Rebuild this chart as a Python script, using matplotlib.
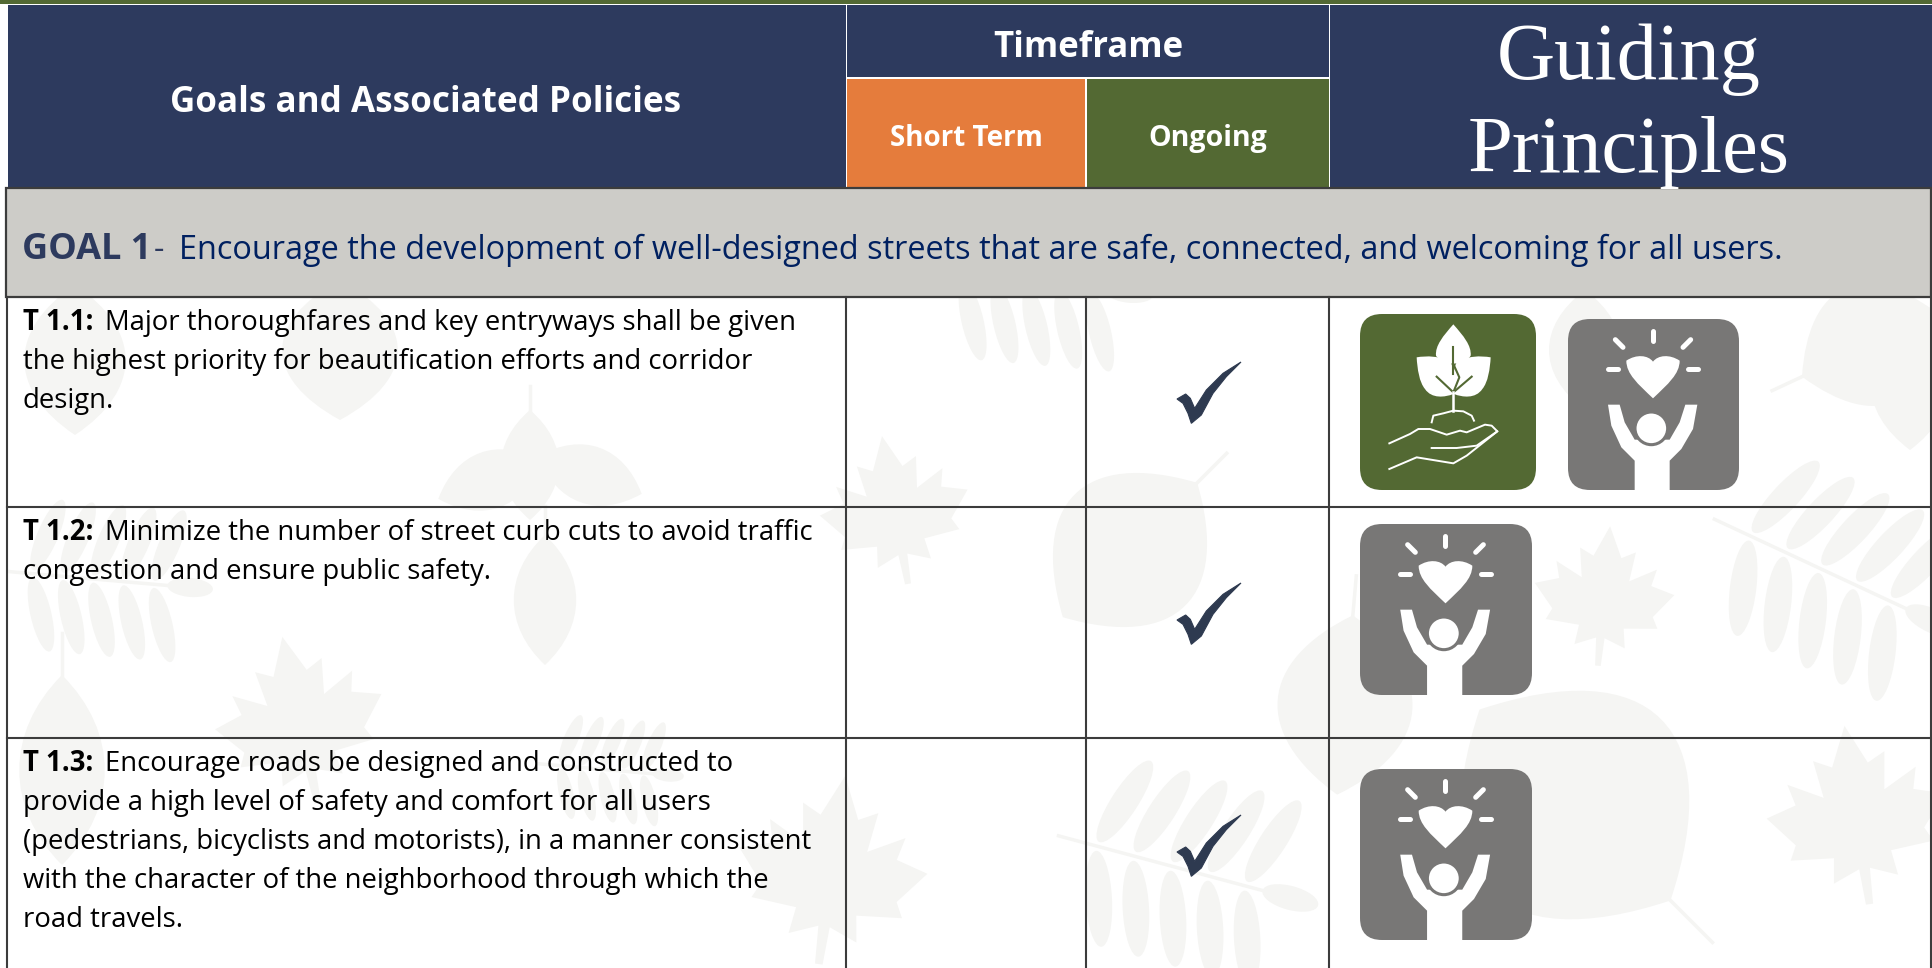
import matplotlib
matplotlib.use("Agg")
import matplotlib.pyplot as plt
from matplotlib.patches import Rectangle, FancyBboxPatch, Polygon, PathPatch, Ellipse
from matplotlib.path import Path
from matplotlib.transforms import Affine2D

W, H = 1933, 968

# table content
header_main = "Goals and Associated Policies"
header_time = "Timeframe"
header_cols = ["Short Term", "Ongoing"]
header_guiding = ["Guiding", "Principles"]
goal_label = "GOAL 1"
goal_text = "Encourage the development of well-designed streets that are safe, connected, and welcoming for all users."
row_labels = ["T 1.1:", "T 1.2:", "T 1.3:"]
row_lines = [
    ["Major thoroughfares and key entryways shall be given",
     "the highest priority for beautification efforts and corridor",
     "design."],
    ["Minimize the number of street curb cuts to avoid traffic",
     "congestion and ensure public safety."],
    ["Encourage roads be designed and constructed to",
     "provide a high level of safety and comfort for all users",
     "(pedestrians, bicyclists and motorists), in a manner consistent",
     "with the character of the neighborhood through which the",
     "road travels."],
]
row_ongoing = [True, True, True]
row_icons = [["plant", "people"], ["people"], ["people"]]

# layout in pixels
col_x = [7, 846, 1086, 1329, 1931]
row_y = [297, 507, 738, 968]

NAVY = "#2d3a5e"
ORANGE = "#e57c3c"
GREEN = "#536933"
GREY = "#787776"
BAND = "#cdccc8"
LINE = "#3c3c3c"
LEAF = "#f5f5f3"
CHECK = "#2e3a50"
FONT = "Open Sans"

fig = plt.figure(figsize=(W / 100, H / 100), dpi=100)
ax = fig.add_axes([0, 0, 1, 1])
ax.set_xlim(0, W)
ax.set_ylim(H, 0)
ax.axis("off")

clip = Rectangle((col_x[0], row_y[0]), col_x[-1] - col_x[0], H - row_y[0], transform=ax.transData)


def place(x, y, size, angle):
    return Affine2D().scale(size).rotate_deg(angle).translate(x, y) + ax.transData


def simple_leaf(x, y, size, angle, fat=0.32):
    verts = [(-0.5, 0), (-0.2, -fat), (0.2, -fat), (0.5, 0), (0.2, fat), (-0.2, fat), (-0.5, 0)]
    codes = [Path.MOVETO] + [Path.CURVE4] * 6
    p = PathPatch(Path(verts, codes), fc=LEAF, ec="none", transform=place(x, y, size, angle), zorder=1)
    ax.add_patch(p)
    p.set_clip_path(clip)
    s, = ax.plot([-0.5, -0.72], [0, 0], color=LEAF, lw=2.5, transform=place(x, y, size, angle), zorder=1)
    s.set_clip_path(clip)


def maple_leaf(x, y, size, angle):
    pts = [(0, -0.5), (0.1, -0.28), (0.2, -0.33), (0.17, -0.12), (0.36, -0.22), (0.33, -0.1),
           (0.5, -0.05), (0.36, 0.12), (0.4, 0.2), (0.16, 0.22), (0.18, 0.36), (0.03, 0.3),
           (0.02, 0.5), (-0.02, 0.5), (-0.03, 0.3), (-0.18, 0.36), (-0.16, 0.22), (-0.4, 0.2),
           (-0.36, 0.12), (-0.5, -0.05), (-0.33, -0.1), (-0.36, -0.22), (-0.17, -0.12),
           (-0.2, -0.33), (-0.1, -0.28)]
    p = Polygon(pts, fc=LEAF, ec="none", transform=place(x, y, size, angle), zorder=1)
    ax.add_patch(p)
    p.set_clip_path(clip)


def compound_leaf(x, y, size, angle):
    tr = place(x, y, size, angle)
    s, = ax.plot([-0.55, 0.55], [0, 0], color=LEAF, lw=2.5, transform=tr, zorder=1)
    s.set_clip_path(clip)
    for pos in [-0.36, -0.2, -0.04, 0.12, 0.28]:
        for side in [-1, 1]:
            e = Ellipse((pos + 0.04, side * 0.21), 0.11, 0.4, angle=side * -18, fc=LEAF, ec="none",
                        transform=tr, zorder=1)
            ax.add_patch(e)
            e.set_clip_path(clip)
    e = Ellipse((0.45, 0), 0.24, 0.1, fc=LEAF, ec="none", transform=tr, zorder=1)
    ax.add_patch(e)
    e.set_clip_path(clip)


# faded leaf pattern behind the table
ax.add_patch(Rectangle((col_x[0], row_y[0]), col_x[-1] - col_x[0], H - row_y[0], fc="white", ec="none", zorder=0))
for x, y, s, a in [(1186, 870, 240, 15), (1834, 575, 240, 25), (105, 580, 190, 5), (1040, 285, 200, 5),
                   (610, 770, 130, 5)]:
    compound_leaf(x, y, s, a)
for x, y, s, a in [(1604, 596, 140, 5), (1857, 815, 180, -8), (895, 510, 150, -10), (832, 870, 190, 8),
                   (300, 720, 170, -12)]:
    maple_leaf(x, y, s, a)
for x, y, s, a, f in [(1130, 550, 190, 135, 0.55), (1575, 805, 270, -135, 0.6), (1345, 705, 180, 95, 0.5),
                      (1870, 345, 150, -25, 0.55), (1910, 385, 130, 90, 0.4), (1585, 350, 120, 90, 0.4),
                      (530, 465, 110, 90, 0.35), (490, 480, 110, 160, 0.35), (590, 475, 110, 20, 0.35),
                      (545, 600, 130, 90, 0.32), (62, 770, 190, 90, 0.3), (340, 350, 140, 90, 0.55),
                      (75, 360, 150, 90, 0.45)]:
    simple_leaf(x, y, s, a, f)

# top stripe and header cells
ax.add_patch(Rectangle((0, 0), W, 3.5, fc=GREEN, ec="none", zorder=2))
header_top, header_mid, header_bot = 5, 78, 188
header_cells = [
    (col_x[0] + 1, header_top, col_x[1], header_bot, NAVY),
    (col_x[1] + 1, header_top, col_x[3], header_mid - 1, NAVY),
    (col_x[1] + 1, header_mid + 1, col_x[2] - 1, header_bot, ORANGE),
    (col_x[2] + 1, header_mid + 1, col_x[3], header_bot, GREEN),
    (col_x[3] + 1, header_top, W, header_bot, NAVY),
]
for x0, y0, x1, y1, c in header_cells:
    ax.add_patch(Rectangle((x0, y0), x1 - x0, y1 - y0, fc=c, ec="none", zorder=2))

ax.text(426, 112, header_main, color="white", fontsize=25.2, fontweight="bold", family=FONT, ha="center", va="baseline", zorder=5)
ax.text(1088, 57, header_time, color="white", fontsize=25, fontweight="bold", family=FONT, ha="center", va="baseline", zorder=5)
ax.text(966, 146, header_cols[0], color="white", fontsize=20, fontweight="bold", family=FONT, ha="center", va="baseline", zorder=5)
ax.text(1208, 146, header_cols[1], color="white", fontsize=20.6, fontweight="bold", family=FONT, ha="center", va="baseline", zorder=5)
ax.text(1629, 79, header_guiding[0], color="white", fontsize=58, family="Liberation Serif", ha="center", va="baseline", zorder=5)
ax.text(1629, 172, header_guiding[1], color="white", fontsize=58, family="Liberation Serif", ha="center", va="baseline", zorder=5)

# goal band
ax.add_patch(Rectangle((col_x[0] - 1, 188), col_x[-1] - col_x[0] + 1, 109, fc=BAND, ec=LINE, lw=1.6, zorder=3))
renderer = fig.canvas.get_renderer()
ax.text(22, 259, goal_label, color=NAVY, fontsize=26, fontweight="bold", family=FONT, va="baseline", zorder=5)
ax.text(154, 259, "-", color=NAVY, fontsize=23.4, family=FONT, va="baseline", zorder=5)
ax.text(179, 259, goal_text, color="#002060", fontsize=23.45, family=FONT, va="baseline", zorder=5)

# row text
for i, lines in enumerate(row_lines):
    y0 = row_y[i] + 33
    b = ax.text(23, y0, row_labels[i], color="black", fontsize=19.8, fontweight="bold", family=FONT, va="baseline", zorder=5)
    bb = b.get_window_extent(renderer)
    for j, line in enumerate(lines):
        x = bb.x1 + 12 if j == 0 else 23
        ax.text(x, y0 + j * 39, line, color="black", fontsize=19.8, family=FONT, va="baseline", zorder=5)

# grid lines of the body
for y in row_y[1:-1]:
    ax.plot([col_x[0], col_x[-1]], [y, y], color=LINE, lw=1.5, zorder=3)
for x in col_x:
    ax.plot([x, x], [row_y[0], H], color=LINE, lw=1.5, zorder=3)


def check(x, y):
    pts = [(232, 177), (258, 162), (272, 175), (285, 205), (320, 150), (370, 100), (424, 66), (380, 110),
           (340, 160), (305, 225), (275, 250), (265, 220), (250, 190)]
    pts = [(x + (a - 232) / 3, y + (b - 66) / 3) for a, b in pts]
    ax.add_patch(Polygon(pts, fc=CHECK, ec=CHECK, lw=0.8, zorder=5))


def plant_icon(x, y, size):
    ax.add_patch(FancyBboxPatch((x + 12, y + 12), size - 24, size - 24, boxstyle="round,pad=12,rounding_size=22",
                                fc=GREEN, ec="none", zorder=4))
    k = size / 528

    def P(pts):
        return [(x + a * k, y + b * k) for a, b in pts]

    def curve(pts, **kw):
        codes = [Path.MOVETO] + [Path.CURVE4] * (len(pts) - 1)
        ax.add_patch(PathPatch(Path(P(pts), codes), zorder=5, **kw))

    white = dict(fc="white", ec="none")
    curve([(280, 31), (250, 65), (225, 95), (228, 125), (240, 145), (265, 145), (280, 150),
           (295, 145), (320, 145), (332, 125), (335, 95), (310, 65), (280, 31)], **white)
    curve([(170, 130), (200, 125), (240, 125), (272, 145), (285, 170), (285, 210), (280, 240),
           (255, 250), (215, 255), (195, 225), (178, 205), (172, 165), (170, 130)], **white)
    curve([(392, 130), (362, 125), (322, 125), (290, 145), (277, 170), (277, 210), (282, 240),
           (307, 250), (347, 255), (367, 225), (384, 205), (390, 165), (392, 130)], **white)
    ax.plot(*zip(*P([(280, 100), (280, 180)])), color=GREEN, lw=1.5, zorder=6)
    ax.plot(*zip(*P([(230, 188), (280, 235), (335, 188)])), color=GREEN, lw=1.5, zorder=6)
    ax.plot(*zip(*P([(280, 150), (298, 190), (280, 235)])), color=GREEN, lw=1.5, zorder=6)
    ax.plot(*zip(*P([(280, 235), (280, 290)])), color="white", lw=1.8, zorder=6)
    ax.plot(*zip(*P([(215, 325), (220, 305), (250, 298), (280, 290), (310, 292), (335, 305), (342, 320)])),
            color="white", lw=1.4, zorder=6)
    ax.plot(*zip(*P([(88, 388), (150, 360), (175, 345), (210, 345), (260, 362), (300, 350), (320, 355),
                     (375, 332), (395, 335), (412, 352), (350, 395), (290, 402), (215, 402)])),
            color="white", lw=1.4, zorder=6)
    ax.plot(*zip(*P([(88, 465), (170, 430), (280, 448), (320, 425), (412, 352)])),
            color="white", lw=1.4, zorder=6)


def people_icon(x, y, w, h):
    ax.add_patch(FancyBboxPatch((x + 12, y + 12), w - 24, h - 24, boxstyle="round,pad=12,rounding_size=22",
                                fc=GREY, ec="none", zorder=4))
    kx, ky = w / 513, h / 513

    def P(pts):
        return [(x + a * kx, y + b * ky) for a, b in pts]

    for seg in [[(255, 35), (255, 65)], [(142, 62), (165, 85)], [(368, 62), (345, 85)],
                [(120, 151), (150, 151)], [(360, 151), (390, 151)]]:
        ax.plot(*zip(*P(seg)), color="white", lw=3.6, solid_capstyle="round", zorder=6)
    heart = [(255, 238), (210, 195), (175, 165), (175, 125), (205, 105), (240, 108), (255, 128),
             (270, 108), (305, 105), (335, 125), (335, 165), (300, 195), (255, 238)]
    codes = [Path.MOVETO] + [Path.CURVE4] * 12
    ax.add_patch(PathPatch(Path(P(heart), codes), fc="white", ec="none", zorder=6))
    body = [(120, 257), (155, 257), (170, 310), (200, 362), (305, 362), (335, 310), (352, 257), (388, 257),
            (375, 330), (340, 390), (305, 425), (305, 513), (200, 513), (200, 425), (160, 385), (130, 320)]
    ax.add_patch(Polygon(P(body), fc="white", ec="none", zorder=6))
    ax.add_patch(Ellipse((x + 250 * kx, y + 328 * ky), 98 * kx, 98 * ky, fc="white", ec=GREY, lw=2.2, zorder=7))


# marks in the table
check_y = [362, 583, 815]
icon_y = [(314, 319), (524,), (769,)]
for i, done in enumerate(row_ongoing):
    if done:
        check(1177, check_y[i])
    for k, name in enumerate(row_icons[i]):
        if name == "plant":
            plant_icon(1360, icon_y[i][k], 176)
        elif len(row_icons[i]) == 2:
            people_icon(1568, icon_y[i][k], 171, 171)
        else:
            people_icon(1360, icon_y[i][k], 172, 171)

fig.savefig("out.png", dpi=100)
